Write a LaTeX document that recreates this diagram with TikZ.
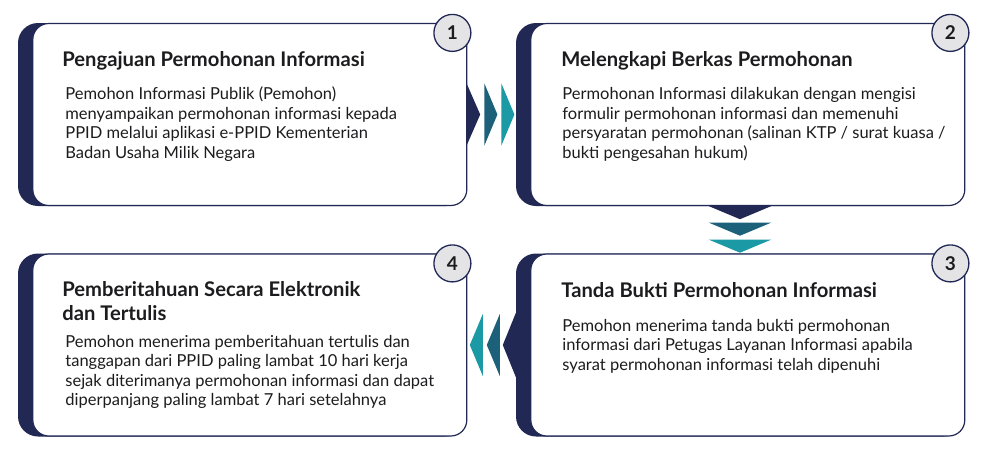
\documentclass[tikz,border=0pt]{standalone}
\usepackage{fontspec}
\setmainfont{Lato}
\usetikzlibrary{shapes.geometric, positioning}
\definecolor{navy}{RGB}{33,40,84}
\definecolor{darkteal}{RGB}{29,96,122}
\definecolor{lightteal}{RGB}{27,154,166}
\definecolor{numgray}{RGB}{228,228,231}
\definecolor{ink}{RGB}{28,28,30}
\tikzstyle{back} = [rectangle, rounded corners=20pt, fill=navy, minimum width=448pt, minimum height=183pt, inner sep=0pt]
\tikzstyle{card} = [rectangle, rounded corners=16pt, draw=navy, line width=1.2pt, fill=white, minimum width=434pt, minimum height=182pt, inner sep=0pt]
\tikzstyle{number} = [circle, draw=navy, line width=1.3pt, fill=numgray, minimum size=37pt, inner sep=0pt, text=ink, font=\fontsize{19}{19}\selectfont\bfseries]
\tikzstyle{title} = [anchor=base west, inner sep=0pt, align=left, text=ink, font=\fontsize{20.2}{24}\selectfont\bfseries]
\tikzstyle{body} = [anchor=base west, inner sep=0pt, align=left, text=ink, font=\fontsize{16.5}{19.5}\selectfont]
\tikzstyle{chevdark} = [fill=darkteal]
\tikzstyle{chevlight} = [fill=lightteal]

\begin{document}
\begin{tikzpicture}[x=1pt, y=-1pt]
	\useasboundingbox (0,0) rectangle (982,456);

	% navy backs with their pointers
	\node (back1) [back] at (242,114.5) {};
	\node (back2) [back] at (740,114.5) {};
	\node (back3) [back] at (740,345) {};
	\node (back4) [back] at (242,345) {};
	\fill[navy] ([yshift=32pt]back1.east) -- ([xshift=14pt]back1.east) -- ([yshift=-32pt]back1.east) -- cycle;
	\fill[navy] ([xshift=-31pt]back2.south) -- ([yshift=-13pt]back2.south) -- ([xshift=31pt]back2.south) -- cycle;
	\fill[navy] ([yshift=32pt]back3.west) -- ([xshift=-13pt]back3.west) -- ([yshift=-32pt]back3.west) -- cycle;

	% white cards
	\node (card1) [card, right=-434pt of back1.east] {};
	\node (card2) [card, right=-434pt of back2.east] {};
	\node (card3) [card, right=-434pt of back3.east] {};
	\node (card4) [card, right=-434pt of back4.east] {};

	\node (num1) [number] at ([xshift=-15pt,yshift=-10pt]card1.north east) {1};
	\node (num2) [number] at ([xshift=-15pt,yshift=-10pt]card2.north east) {2};
	\node (num3) [number] at ([xshift=-15pt,yshift=-10pt]card3.north east) {3};
	\node (num4) [number] at ([xshift=-15pt,yshift=-10pt]card4.north east) {4};

	% base anchor sits on the last line
	\node (title1) [title] at ([xshift=30pt,yshift=-43.5pt]card1.north west) {Pengajuan Permohonan Informasi};
	\node (text1) [body] at ([xshift=33pt,yshift=-135.5pt]card1.north west) {Pemohon Informasi Publik (Pemohon)\\menyampaikan permohonan informasi kepada\\PPID melalui aplikasi e-PPID Kementerian\\Badan Usaha Milik Negara};
	\node (title2) [title] at ([xshift=31pt,yshift=-43.5pt]card2.north west) {Melengkapi Berkas Permohonan};
	\node (text2) [body] at ([xshift=32pt,yshift=-135.5pt]card2.north west) {Permohonan Informasi dilakukan dengan mengisi\\formulir permohonan informasi dan memenuhi\\persyaratan permohonan (salinan KTP / surat kuasa /\\bukti pengesahan hukum)};
	\node (title3) [title] at ([xshift=31pt,yshift=-44pt]card3.north west) {Tanda Bukti Permohonan Informasi};
	\node (text3) [body] at ([xshift=32pt,yshift=-117pt]card3.north west) {Pemohon menerima tanda bukti permohonan\\informasi dari Petugas Layanan Informasi apabila\\syarat permohonan informasi telah dipenuhi};
	\node (title4) [title] at ([xshift=30pt,yshift=-67pt]card4.north west) {Pemberitahuan Secara Elektronik\\dan Tertulis};
	\node (text4) [body] at ([xshift=33pt,yshift=-152.5pt]card4.north west) {Pemohon menerima pemberitahuan tertulis dan\\tanggapan dari PPID paling lambat 10 hari kerja\\sejak diterimanya permohonan informasi dan dapat\\diperpanjang paling lambat 7 hari setelahnya};

	% chevrons between the cards
	\fill[chevdark] ([xshift=17pt,yshift=31pt]card1.east) -- ([xshift=30pt]card1.east) -- ([xshift=17pt,yshift=-31pt]card1.east) -- cycle;
	\fill[chevlight] ([xshift=34pt,yshift=31pt]card1.east) -- ([xshift=47pt]card1.east) -- ([xshift=34pt,yshift=-31pt]card1.east) -- cycle;
	\fill[chevdark] ([xshift=-31pt,yshift=-16.5pt]back2.south) -- ([yshift=-29.5pt]back2.south) -- ([xshift=31pt,yshift=-16.5pt]back2.south) -- cycle;
	\fill[chevlight] ([xshift=-31pt,yshift=-33.5pt]back2.south) -- ([yshift=-46.5pt]back2.south) -- ([xshift=31pt,yshift=-33.5pt]back2.south) -- cycle;
	\fill[chevdark] ([xshift=-16pt,yshift=31pt]back3.west) -- ([xshift=-29pt]back3.west) -- ([xshift=-16pt,yshift=-31pt]back3.west) -- cycle;
	\fill[chevlight] ([xshift=-33pt,yshift=31pt]back3.west) -- ([xshift=-46pt]back3.west) -- ([xshift=-33pt,yshift=-31pt]back3.west) -- cycle;
\end{tikzpicture}
\end{document}
